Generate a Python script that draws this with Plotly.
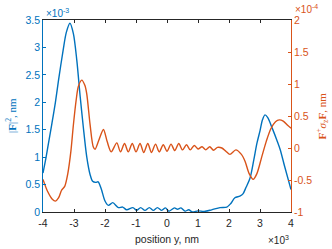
import plotly.graph_objects as go

# position y (x 10^3 nm)
x_abs = [-4.0, -3.9, -3.8, -3.72, -3.6, -3.5, -3.35, -3.25, -3.13, -3.02, -2.91, -2.8,
         -2.7, -2.59, -2.48, -2.4, -2.3, -2.22, -2.12, -2.0, -1.89, -1.75, -1.57, -1.43,
         -1.3, -1.1, -0.98, -0.85, -0.71, -0.57, -0.44, -0.31, -0.17, -0.05, 0.06, 0.24,
         0.34, 0.45, 0.58, 0.7, 0.82, 1.0, 1.2, 1.44, 1.71, 1.93, 2.05, 2.19, 2.35, 2.45,
         2.55, 2.68, 2.8, 2.9, 3.0, 3.08, 3.16, 3.25, 3.4, 3.55, 3.65, 3.8, 4.0]
# |F|^2 (x 10^-3 nm)
f_abs = [0.71, 1.0, 1.33, 1.59, 2.0, 2.4, 2.95, 3.27, 3.44, 3.25, 2.77, 2.1,
         1.55, 1.01, 0.68, 0.56, 0.54, 0.55, 0.42, 0.2, 0.12, 0.17, 0.08, 0.09,
         0.04, 0.08, 0.03, 0.08, 0.03, 0.08, 0.03, 0.08, 0.03, 0.075, 0.015, 0.075,
         0.05, 0.075, 0.015, 0.04, 0.0, 0.02, 0.01, 0.04, 0.08, 0.09, 0.15, 0.26, 0.29, 0.33,
         0.45, 0.62, 0.95, 1.25, 1.48, 1.68, 1.77, 1.72, 1.52, 1.3, 1.14, 0.82, 0.41]

# position y (x 10^3 nm)
x_spin = [-4.0, -3.85, -3.7, -3.6, -3.5, -3.4, -3.3, -3.2, -3.1, -3.02, -2.93, -2.86,
          -2.75, -2.65, -2.59, -2.48, -2.38, -2.32, -2.2, -2.05, -1.93, -1.8, -1.62, -1.5,
          -1.37, -1.25, -1.12, -1.0, -0.87, -0.75, -0.62, -0.5, -0.37, -0.25, -0.12, 0.0,
          0.13, 0.25, 0.38, 0.5, 0.63, 0.75, 0.88, 1.0, 1.13, 1.25, 1.38, 1.5, 1.63, 1.77,
          1.9, 2.03, 2.22, 2.4, 2.52, 2.65, 2.78, 2.9, 3.05, 3.2, 3.35, 3.5, 3.62, 3.75, 3.9, 4.0]
# F^+ sigma_z F (x 10^-4 nm)
f_spin = [-0.49, -0.68, -0.8, -0.83, -0.78, -0.66, -0.6, -0.4, -0.05, 0.36, 0.75, 0.96,
          1.06, 0.98, 0.85, 0.36, 0.02, -0.02, 0.12, 0.29, 0.1, -0.06, 0.08, -0.06,
          0.07, -0.06, 0.07, -0.06, 0.07, -0.07, 0.07, -0.07, 0.06, -0.06, 0.05, -0.05,
          0.06, -0.04, 0.07, -0.03, 0.05, -0.03, 0.04, -0.015, 0.02, -0.03, 0.02, -0.035, 0.01, 0.0,
          -0.05, -0.1, -0.03, -0.1, -0.21, -0.4, -0.49, -0.4, -0.15, 0.1, 0.3, 0.41, 0.44, 0.42, 0.35, 0.31]

x_ticks = [-4, -3, -2, -1, 0, 1, 2, 3, 4]
y1_ticks = [0, 0.5, 1, 1.5, 2, 2.5, 3, 3.5]
y2_ticks = [-1, -0.5, 0, 0.5, 1, 1.5, 2]

BLUE = "#0072BD"
ORANGE = "#D95319"
DARK = "#262626"

fig = go.Figure()
fig.add_trace(go.Scatter(x=x_abs, y=f_abs, mode="lines", line=dict(color=BLUE, width=1.4, shape="spline", smoothing=0.8),
                         yaxis="y", showlegend=False))
fig.add_trace(go.Scatter(x=x_spin, y=f_spin, mode="lines", line=dict(color=ORANGE, width=1.4, shape="spline", smoothing=0.8),
                         yaxis="y2", showlegend=False))

SANS = "Liberation Sans, Arial"
SERIF = "Liberation Serif, Times New Roman"
tickfont = dict(family=SANS, size=10.5)

fig.update_layout(
    width=332, height=249,
    margin=dict(l=43, r=41, t=20, b=37, autoexpand=False),
    paper_bgcolor="white", plot_bgcolor="white",
    xaxis=dict(range=[-4, 4], tickvals=x_ticks, ticktext=[str(v) for v in x_ticks],
               showline=True, linecolor=DARK, linewidth=0.8, mirror="ticks",
               ticks="inside", ticklen=3, tickcolor=DARK, tickwidth=0.8,
               showgrid=False, zeroline=False, ticklabelstandoff=1,
               tickfont=dict(tickfont, color=DARK)),
    yaxis=dict(range=[0, 3.5], tickvals=y1_ticks, ticktext=["0", "0.5", "1", "1.5", "2", "2.5", "3", "3.5"],
               showline=True, linecolor=BLUE, linewidth=0.8,
               ticks="inside", ticklen=3, tickcolor=BLUE, tickwidth=0.8,
               showgrid=False, zeroline=False,
               tickfont=dict(tickfont, color=BLUE)),
    yaxis2=dict(range=[-1, 2], tickvals=y2_ticks, ticktext=["-1", "-0.5", "0", "0.5", "1", "1.5", "2"],
                overlaying="y", side="right",
                showline=True, linecolor=ORANGE, linewidth=0.8,
                ticks="inside", ticklen=3, tickcolor=ORANGE, tickwidth=0.8,
                showgrid=False, zeroline=False,
                tickfont=dict(tickfont, color=ORANGE)),
    annotations=[
        dict(text="position y, nm", xref="paper", yref="paper", x=0.5, y=-0.143, xanchor="center", yanchor="middle",
             showarrow=False, font=dict(family=SANS, size=10.5, color=DARK)),
        dict(text="|<b>F</b>|<sup>2</sup>, nm", xref="paper", yref="paper", x=-0.129, y=0.5,
             xanchor="center", yanchor="middle", textangle=-90,
             showarrow=False, font=dict(family=SERIF, size=11, color=BLUE)),
        dict(text="<b>F</b><sup>+</sup><i>σ</i><sub>z</sub><b>F</b>, nm", xref="paper", yref="paper", x=1.127, y=0.5,
             xanchor="center", yanchor="middle", textangle=-90,
             showarrow=False, font=dict(family=SERIF, size=11, color=ORANGE)),
        dict(text="×10<sup>-3</sup>", xref="paper", yref="paper", x=0.006, y=1.036, xanchor="left", yanchor="middle",
             showarrow=False, font=dict(family=SANS, size=10, color=BLUE)),
        dict(text="×10<sup>-4</sup>", xref="paper", yref="paper", x=1.008, y=1.058, xanchor="left", yanchor="middle",
             showarrow=False, font=dict(family=SANS, size=10, color=ORANGE)),
        dict(text="×10<sup>3</sup>", xref="paper", yref="paper", x=1.0, y=-0.148, xanchor="right", yanchor="middle",
             showarrow=False, font=dict(family=SANS, size=10, color=DARK)),
    ],
)

fig.write_html("out.html", config={"displayModeBar": False},
               post_script="document.body.style.margin='0';")
